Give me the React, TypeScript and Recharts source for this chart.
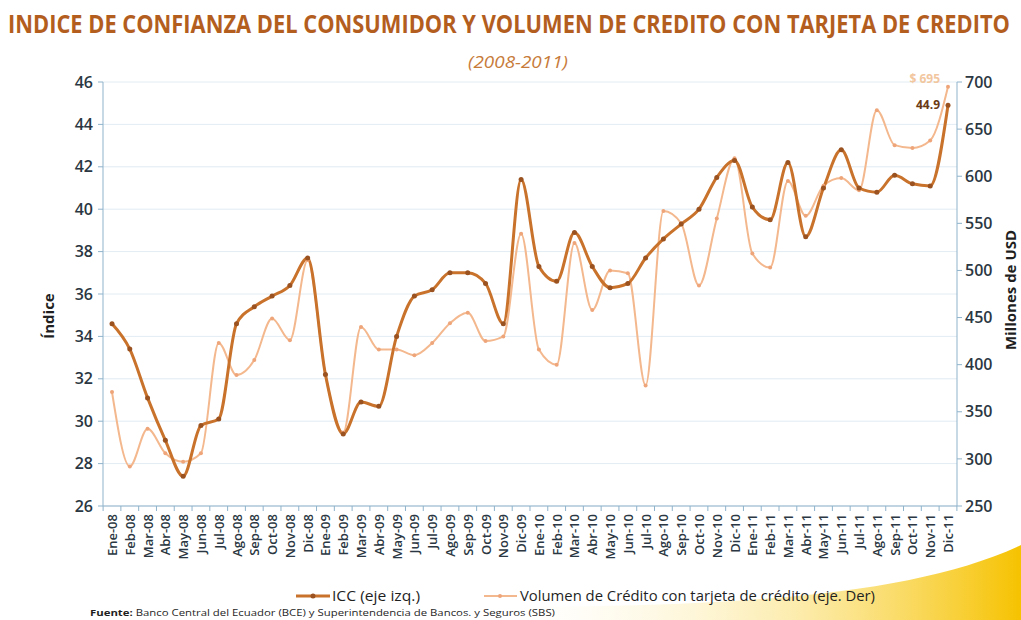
import { LineChart, Line, XAxis, YAxis, CartesianGrid } from 'recharts';

const months = [
  'Ene-08', 'Feb-08', 'Mar-08', 'Abr-08', 'May-08', 'Jun-08', 'Jul-08', 'Ago-08', 'Sep-08', 'Oct-08', 'Nov-08', 'Dic-08',
  'Ene-09', 'Feb-09', 'Mar-09', 'Abr-09', 'May-09', 'Jun-09', 'Jul-09', 'Ago-09', 'Sep-09', 'Oct-09', 'Nov-09', 'Dic-09',
  'Ene-10', 'Feb-10', 'Mar-10', 'Abr-10', 'May-10', 'Jun-10', 'Jul-10', 'Ago-10', 'Sep-10', 'Oct-10', 'Nov-10', 'Dic-10',
  'Ene-11', 'Feb-11', 'Mar-11', 'Abr-11', 'May-11', 'Jun-11', 'Jul-11', 'Ago-11', 'Sep-11', 'Oct-11', 'Nov-11', 'Dic-11',
];

// ICC (eje izq.)
const icc = [
  34.6, 33.4, 31.1, 29.1, 27.4, 29.8, 30.1, 34.6, 35.4, 35.9, 36.4, 37.7,
  32.2, 29.4, 30.9, 30.7, 34.0, 35.9, 36.2, 37.0, 37.0, 36.5, 34.6, 41.4,
  37.3, 36.6, 38.9, 37.3, 36.3, 36.5, 37.7, 38.6, 39.3, 40.0, 41.5, 42.3,
  40.1, 39.5, 42.2, 38.7, 41.0, 42.8, 41.0, 40.8, 41.6, 41.2, 41.1, 44.9,
];

// Volumen de crédito con tarjeta, millones de USD (eje der.)
const volumen = [
  371, 292, 332, 306, 297, 306, 423, 389, 405, 449, 426, 511,
  389, 328, 440, 416, 416, 410, 423, 444, 455, 425, 430, 539,
  416, 400, 529, 458, 500, 497, 378, 563, 550, 484, 555, 619,
  518, 503, 595, 558, 590, 598, 585, 670, 633, 630, 638, 695,
];

const leftTicks = [26, 28, 30, 32, 34, 36, 38, 40, 42, 44, 46];
const rightTicks = [250, 300, 350, 400, 450, 500, 550, 600, 650, 700];

const data = months.map((mes, i) => ({ mes, icc: icc[i], vol: volumen[i] }));

const FONT = '"Open Sans", "Noto Sans", sans-serif';
const AXIS = '#8fb3cb';
const TXT = '#2b3742';
const ICC_COLOR = '#C8722C';
const VOL_COLOR = '#F4B88E';
const HALF_BAND = 8.9;

function MonthTick(props: any) {
  const { x, y, payload, index } = props;
  const ty = y + 8;
  return (
    <g>
      <line x1={x - HALF_BAND} x2={x - HALF_BAND} y1={y} y2={y + 5} stroke={AXIS} />
      {index === months.length - 1 && (
        <line x1={x + HALF_BAND} x2={x + HALF_BAND} y1={y} y2={y + 5} stroke={AXIS} />
      )}
      <text
        x={x}
        y={ty}
        transform={`rotate(-90 ${x} ${ty})`}
        textAnchor="end"
        dominantBaseline="central"
        fontSize={13}
        fontWeight={600}
        fill={TXT}
        fontFamily={FONT}
      >
        {payload.value}
      </text>
    </g>
  );
}

function lastLabel(text: string, color: string, dy: number) {
  return (props: any) => {
    const { x, y, index } = props;
    if (index !== months.length - 1) return <g />;
    return (
      <text x={x - 8} y={y + dy} textAnchor="end" fontSize={12} fontWeight={700} fill={color} fontFamily={FONT}>
        {text}
      </text>
    );
  };
}

export default function App() {
  return (
    <div style={{ position: 'absolute', left: 0, top: 0, width: 1021, height: 620, background: '#fff', overflow: 'hidden' }}>
      <svg width={1021} height={620} style={{ position: 'absolute', left: 0, top: 0 }}>
        <defs>
          <linearGradient id="swoosh" x1="0" y1="0" x2="1" y2="0">
            <stop offset="0" stopColor="#fff6d8" stopOpacity={0} />
            <stop offset="0.55" stopColor="#fbe48a" stopOpacity={0.7} />
            <stop offset="1" stopColor="#f6c200" />
          </linearGradient>
        </defs>
        <path d="M 520 620 L 520 607 C 760 606, 920 592, 1021 545 L 1021 620 Z" fill="url(#swoosh)" />
      </svg>

      <div style={{ position: 'absolute', left: 0, top: 0 }}>
        <LineChart width={1021} height={620} data={data} margin={{ top: 82, right: 20, bottom: 44, left: 40 }}>
          <CartesianGrid yAxisId="left" vertical={false} stroke="#e2ecf3" />
          <XAxis
            dataKey="mes"
            interval={0}
            height={70}
            padding={{ left: 9, right: 9 }}
            tick={<MonthTick />}
            tickLine={false}
            tickSize={0}
            tickMargin={0}
            axisLine={{ stroke: AXIS }}
          />
          <YAxis
            yAxisId="left"
            width={63}
            domain={[26, 46]}
            ticks={leftTicks}
            interval={0}
            axisLine={{ stroke: AXIS }}
            tickLine={{ stroke: AXIS }}
            tickSize={5}
            tickMargin={5}
            tick={{ fill: TXT, fontSize: 16, fontWeight: 600, fontFamily: FONT }}
          />
          <YAxis
            yAxisId="right"
            orientation="right"
            width={44}
            domain={[250, 700]}
            ticks={rightTicks}
            interval={0}
            axisLine={{ stroke: AXIS }}
            tickLine={{ stroke: AXIS }}
            tickSize={5}
            tickMargin={3}
            tick={{ fill: TXT, fontSize: 16, fontWeight: 600, fontFamily: FONT }}
          />
          <Line
            yAxisId="right"
            dataKey="vol"
            type="monotone"
            stroke={VOL_COLOR}
            strokeWidth={2}
            dot={{ r: 2, fill: '#eea57a', stroke: 'none' }}
            label={lastLabel('$ 695', '#F2C79F', -4)}
            isAnimationActive={false}
          />
          <Line
            yAxisId="left"
            dataKey="icc"
            type="monotone"
            stroke={ICC_COLOR}
            strokeWidth={3}
            dot={{ r: 2.5, fill: '#9a5220', stroke: 'none' }}
            label={lastLabel('44.9', '#6b3a14', 4)}
            isAnimationActive={false}
          />
        </LineChart>
      </div>

      <svg width={1021} height={620} style={{ position: 'absolute', left: 0, top: 0, pointerEvents: 'none' }}>
        <text
          x={0}
          y={0}
          transform="translate(8 33) scale(1 1.15)"
          textLength={1002}
          lengthAdjust="spacingAndGlyphs"
          fontSize={22}
          fontWeight={700}
          fill="#B35E1E"
          fontFamily={FONT}
        >
          INDICE DE CONFIANZA DEL CONSUMIDOR Y VOLUMEN DE CREDITO CON TARJETA DE CREDITO
        </text>
        <text x={468} y={68} textLength={100} lengthAdjust="spacingAndGlyphs" fontSize={17} fontStyle="italic" fill="#C77B3A" fontFamily={FONT}>
          (2008-2011)
        </text>
        <text x={48} y={316} transform="rotate(-90 48 316)" textAnchor="middle" dominantBaseline="central" fontSize={15} fontWeight={700} fill="#1f1f1f" fontFamily={FONT}>
          Índice
        </text>
        <text x={1010} y={290} transform="rotate(-90 1010 290)" textAnchor="middle" dominantBaseline="central" fontSize={15} fontWeight={700} fill="#1f1f1f" fontFamily={FONT}>
          Millones de USD
        </text>

        <line x1={296} x2={330} y1={596} y2={596} stroke={ICC_COLOR} strokeWidth={3} />
        <circle cx={313} cy={596} r={2.5} fill="#9a5220" />
        <text x={332} y={601} textLength={88} lengthAdjust="spacingAndGlyphs" fontSize={15} fill="#1f1f1f" fontFamily={FONT}>
          ICC (eje izq.)
        </text>
        <line x1={484} x2={517} y1={596} y2={596} stroke={VOL_COLOR} strokeWidth={2} />
        <circle cx={500} cy={596} r={2} fill="#eea57a" />
        <text x={520} y={601} textLength={355} lengthAdjust="spacingAndGlyphs" fontSize={15} fill="#1f1f1f" fontFamily={FONT}>
          Volumen de Crédito con tarjeta de crédito (eje. Der)
        </text>

        <text x={90} y={616} textLength={465} lengthAdjust="spacingAndGlyphs" fontSize={9.5} fill="#1f1f1f" fontFamily={FONT}>
          <tspan fontWeight={700}>Fuente:</tspan> Banco Central del Ecuador (BCE) y Superintendencia de Bancos. y Seguros (SBS)
        </text>
      </svg>
    </div>
  );
}
